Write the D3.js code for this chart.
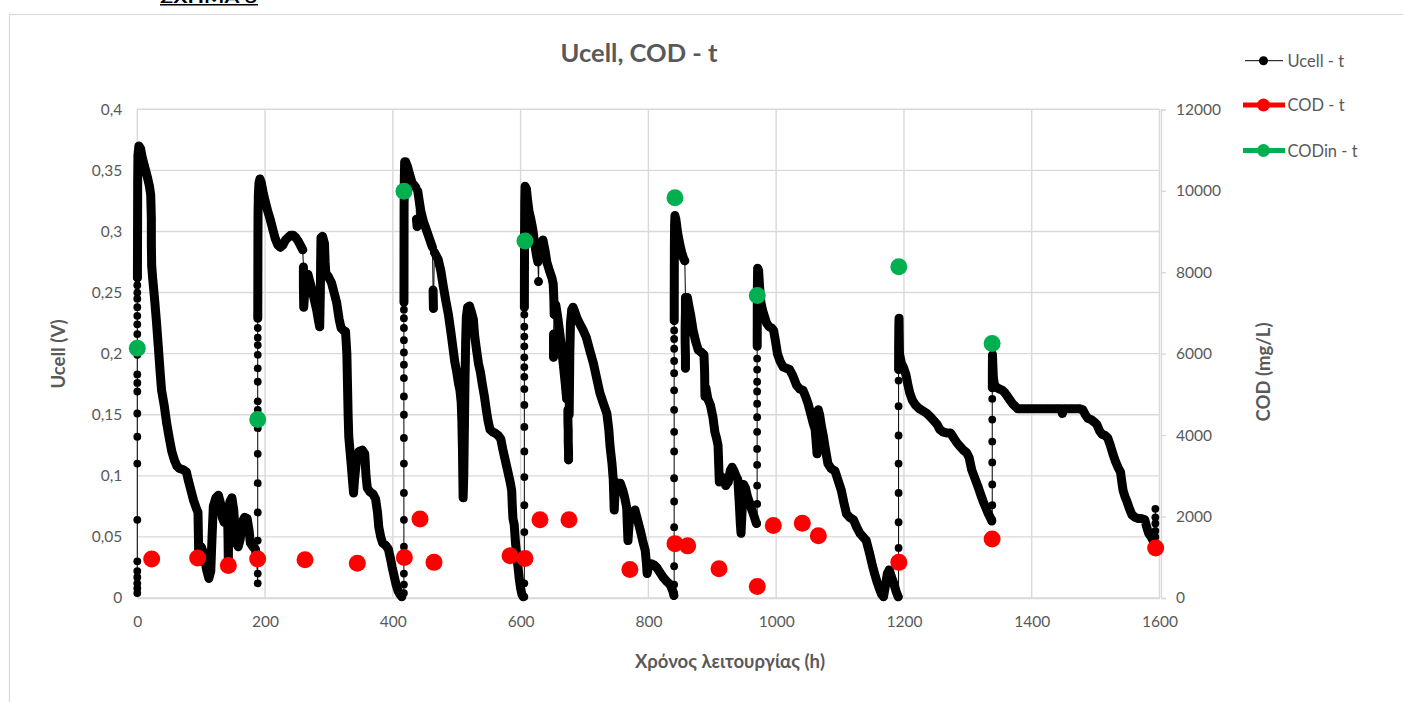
<!DOCTYPE html>
<html>
<head>
<meta charset="utf-8">
<script src="https://cdn.jsdelivr.net/npm/d3@7"></script>
<style>
  html, body { margin: 0; padding: 0; background: #ffffff; }
  svg { display: block; }
</style>
</head>
<body>
<svg id="chart" width="1403" height="702"></svg>
<script>
// ---------------------------------------------------------------
// Axis ticks
const timeTicks  = [0, 200, 400, 600, 800, 1000, 1200, 1400, 1600];
const ucellTicks = [0, 0.05, 0.1, 0.15, 0.2, 0.25, 0.3, 0.35, 0.4];
const codTicks   = [0, 2000, 4000, 6000, 8000, 10000, 12000];

// Effluent COD samples (mg/L) and the time they were taken (h)
const codTime  = [22.5, 94.5, 142.5, 188.4, 262.5, 344.4, 418, 442.5, 464.4, 583.4, 606.8, 630.3,
                  675.7, 771, 841.6, 861.5, 910.5, 970.4, 995.5, 1040.9, 1066, 1192, 1338, 1594];
const codValue = [960, 980, 800, 960, 940, 855, 995, 1940, 875, 1040, 970, 1920,
                  1920, 700, 1335, 1280, 720, 285, 1780, 1835, 1530, 875, 1450, 1225];

// Feed COD at each refill (mg/L)
const codInTime  = [0, 188.5, 417.4, 606.8, 841.6, 970.4, 1192, 1338];
const codInValue = [6130, 4385, 9990, 8765, 9830, 7430, 8135, 6250];

// Cell voltage: sparse readings while the voltage climbs right after each refill
const ucellRiseTime = [0, 188.5, 417.3, 605.8, 840.3, 970.2, 1191.6, 1338.2, 1593.5];
const ucellRiseVolt = [
  [0.004, 0.008, 0.012, 0.017, 0.022, 0.03, 0.064, 0.11, 0.132, 0.151, 0.169, 0.176, 0.183, 0.199, 0.216, 0.224, 0.231, 0.238, 0.245, 0.25, 0.256],
  [0.012, 0.02, 0.031, 0.047, 0.07, 0.094, 0.118, 0.139, 0.146, 0.154, 0.161, 0.177, 0.188, 0.199, 0.207, 0.213, 0.221],
  [0.004, 0.011, 0.02, 0.034, 0.042, 0.064, 0.086, 0.11, 0.131, 0.15, 0.165, 0.18, 0.191, 0.201, 0.211, 0.221, 0.229, 0.236],
  [0.001, 0.012, 0.031, 0.054, 0.076, 0.099, 0.12, 0.14, 0.158, 0.171, 0.181, 0.189, 0.197, 0.206, 0.214, 0.222, 0.232],
  [0.004, 0.011, 0.026, 0.045, 0.058, 0.079, 0.098, 0.12, 0.136, 0.154, 0.17, 0.184, 0.194, 0.204, 0.212, 0.219],
  [0.061, 0.077, 0.092, 0.109, 0.122, 0.136, 0.148, 0.159, 0.169, 0.177, 0.187, 0.196],
  [0.001, 0.028, 0.041, 0.062, 0.086, 0.11, 0.133, 0.157, 0.178],
  [0.064, 0.076, 0.093, 0.111, 0.128, 0.146, 0.163],
  [0.05, 0.055, 0.061, 0.066, 0.073]
];

// Cell voltage: continuous record [t (h), U (V)] through each cycle; null marks a jump between readings
const ucellDecay = [
  [[0.2,0.262],[0.4,0.3],[0.6,0.34],[1,0.362],[2.5,0.37],[5,0.368],[8,0.36],[12,0.352],[16,0.344],[19,0.337],[21,0.33],[22,0.31],[22,0.29],[22.5,0.272],[24,0.262],[27,0.245],[30,0.226],[33,0.205],[36,0.183],[38,0.17],[42,0.158],[46,0.143],[50,0.131],[54,0.12],[58,0.113],[62,0.108],[66,0.106],[72,0.105],[77,0.103],[80,0.096],[84,0.088],[88,0.08],[92,0.074],[95,0.07],[95.5,0.055],[96,0.04],[97,0.03],[100,0.042],[103,0.038],[106,0.03],[109,0.022],[112,0.016],[115,0.022],[117,0.05],[119,0.075],[123,0.082],[127,0.084],[130,0.078],[133,0.066],[136,0.062],[139,0.068],[141,0.075],[142,0.05],[142.5,0.028],[143,0.06],[145,0.079],[148,0.082],[151,0.072],[153,0.055],[155,0.045],[158,0.042],[161,0.048],[164,0.062],[168,0.066],[172,0.065],[175,0.055],[177,0.045],[181,0.042],[185,0.04],[187,0.03]],
  [[188.6,0.229],[188.7,0.26],[188.8,0.29],[189,0.315],[189.5,0.33],[190.5,0.34],[192,0.343],[194,0.34],[197,0.332],[200,0.325],[204,0.317],[208,0.31],[212,0.302],[216,0.294],[220,0.289],[224,0.287],[228,0.289],[232,0.293],[236,0.295],[240,0.297],[244,0.297],[248,0.295],[252,0.292],[256,0.288],[259,0.285],null,[260,0.271],[260,0.255],[260.5,0.238],[262,0.25],[264,0.262],[267,0.265],[271,0.257],[275,0.249],[278,0.242],[281,0.235],[284,0.226],[285.5,0.222],[286.5,0.25],[287,0.275],[287.5,0.295],[290,0.296],[293,0.29],[294,0.275],[295,0.266],[299,0.263],[304,0.258],[308,0.25],[312,0.242],[316,0.228],[319,0.221],[323,0.219],[326,0.218],[328,0.2],[329,0.175],[330,0.15],[331,0.132],[333,0.12],[335,0.108],[337,0.095],[338.5,0.086],[340,0.097],[343,0.112],[347,0.12],[352,0.121],[356,0.118],[358,0.1],[360,0.09],[364,0.087],[369,0.085],[373,0.081],[376,0.07],[378,0.058],[381,0.05],[384,0.045],[389,0.043],[393,0.04],[396,0.033],[399,0.025],[402,0.018],[405,0.011],[408,0.006],[411,0.003],[414,0.001]],
  [[417.4,0.242],[417.5,0.28],[417.6,0.32],[418,0.345],[418.5,0.357],[420,0.357],[423,0.353],[426,0.347],[430,0.34],[433,0.338],[436,0.336],null,[437,0.31],[438,0.304],null,[439,0.333],[441,0.326],[444,0.316],[448,0.308],[452,0.302],[456,0.296],[460,0.29],[462,0.287],null,[463,0.252],[463.5,0.237],null,[465,0.283],[468,0.28],[471,0.277],[475,0.268],[479,0.255],[483,0.243],[487,0.232],[491,0.217],[494,0.205],[497,0.193],[500,0.185],[503,0.175],[505,0.17],[507,0.16],[508,0.145],[509,0.12],[509.5,0.1],[510,0.082],[511,0.1],[512,0.14],[513,0.18],[514,0.21],[515,0.23],[517,0.238],[520,0.239],[523,0.234],[526,0.228],[528,0.215],[531,0.203],[534,0.192],[537,0.185],[540,0.175],[543,0.166],[546,0.155],[549,0.145],[552,0.138],[556,0.136],[560,0.135],[565,0.133],[569,0.13],[572,0.122],[575,0.115],[578,0.108],[581,0.101],[584,0.094],[586,0.088],[587,0.075],[588,0.065],[590,0.06],[592,0.045],[594,0.035],[596,0.025],[598,0.015],[600,0.008],[602,0.003],[604,0.001]],
  [[605.9,0.238],[606,0.27],[606.2,0.3],[606.5,0.325],[607,0.337],[609,0.335],[611,0.325],[613,0.317],[616,0.31],[619,0.302],[622,0.29],[625,0.28],[627,0.275],null,[628,0.259],null,[629,0.282],[632,0.29],[635,0.293],[638,0.285],[641,0.275],[645,0.268],[649,0.262],[651,0.257],[652,0.245],[652.5,0.232],null,[651.5,0.216],[651.5,0.207],[651.5,0.197],null,[655,0.24],[658,0.23],[661,0.218],[664,0.205],[667,0.19],[670,0.175],[672,0.163],null,[674,0.154],[674,0.145],[674.5,0.137],[674.5,0.128],[675,0.12],[675,0.113],null,[676,0.15],[677,0.2],[678,0.225],[680,0.236],[682,0.238],[685,0.234],[689,0.228],[693,0.224],[698,0.219],[703,0.213],[708,0.203],[714,0.192],[719,0.18],[724,0.168],[729,0.16],[735,0.151],[738,0.138],[740,0.124],[743,0.11],[745,0.097],[746,0.08],[746.5,0.072],[748,0.088],[752,0.094],[756,0.094],[760,0.088],[763,0.082],[766,0.074],[767,0.06],[768,0.047],[770,0.062],[774,0.07],[779,0.072],[783,0.064],[787,0.056],[791,0.047],[795,0.039],[797,0.028],[798,0.02],[801,0.027],[805,0.028],[809,0.027],[813,0.025],[818,0.021],[823,0.017],[828,0.014],[834,0.011],[838,0.006],[840,0.002]],
  [[840.4,0.227],[840.5,0.26],[840.7,0.29],[841,0.305],[841.5,0.313],[843,0.31],[846,0.298],[849,0.29],[852,0.283],[855,0.278],[857,0.276],null,[858,0.246],[858,0.235],[857.5,0.222],[857.5,0.21],[858,0.198],[858,0.188],null,[861,0.246],[863,0.24],[866,0.232],[870,0.219],[874,0.21],[878,0.203],[883,0.201],[887,0.199],[888,0.185],[888.5,0.165],[890,0.172],[893,0.163],[897,0.158],[901,0.148],[904,0.136],[907,0.13],[909,0.125],[910,0.11],[911,0.095],[913,0.1],[917,0.097],[921,0.092],[925,0.095],[928,0.104],[931,0.107],[934,0.104],[937,0.1],[940,0.097],[942,0.08],[944,0.06],[945,0.053],[947,0.075],[949,0.093],[952,0.09],[955,0.083],[959,0.077],[962,0.072],[966,0.066],[969,0.061]],
  [[970.3,0.206],[970.4,0.235],[970.6,0.255],[971,0.27],[972.5,0.268],[974,0.255],[976,0.242],[979,0.235],[982,0.23],[985,0.225],[989,0.222],[993,0.221],[996,0.219],[999,0.21],[1002,0.2],[1006,0.194],[1011,0.189],[1016,0.188],[1021,0.187],[1026,0.182],[1032,0.174],[1037,0.171],[1042,0.17],[1046,0.165],[1050,0.159],[1054,0.151],[1058,0.143],[1061,0.138],[1063,0.125],[1064,0.118],[1065,0.135],[1066,0.154],[1068,0.15],[1071,0.14],[1074,0.132],[1077,0.122],[1081,0.11],[1086,0.106],[1092,0.104],[1097,0.096],[1102,0.088],[1106,0.078],[1110,0.069],[1115,0.066],[1121,0.064],[1126,0.058],[1131,0.053],[1136,0.05],[1141,0.047],[1146,0.037],[1150,0.028],[1154,0.02],[1158,0.013],[1162,0.007],[1165,0.003],[1168,0.001],[1171,0.01],[1174,0.02],[1177,0.023],[1180,0.018],[1184,0.012],[1188,0.005],[1191,0.001]],
  [[1191.6,0.187],[1191.7,0.205],[1192,0.222],[1192.3,0.229],[1192.6,0.215],[1193,0.2],[1196,0.192],[1199,0.189],[1203,0.183],[1206,0.175],[1209,0.168],[1213,0.162],[1218,0.158],[1224,0.155],[1230,0.153],[1236,0.151],[1242,0.148],[1247,0.145],[1252,0.142],[1256,0.138],[1261,0.136],[1267,0.135],[1273,0.135],[1278,0.131],[1283,0.127],[1288,0.124],[1293,0.121],[1298,0.119],[1302,0.115],[1306,0.105],[1311,0.098],[1316,0.091],[1320,0.085],[1324,0.079],[1328,0.074],[1332,0.069],[1335,0.066],[1337.5,0.063]],
  [[1338.3,0.172],[1338.4,0.185],[1338.6,0.199],[1339.2,0.19],[1340,0.18],[1342,0.174],[1346,0.172],[1350,0.171],[1354,0.17],[1358,0.168],[1362,0.165],[1366,0.162],[1370,0.159],[1374,0.157],[1378,0.155],[1384,0.155],[1395,0.155],[1410,0.155],[1425,0.155],[1440,0.155],[1446,0.155],[1448,0.151],[1450,0.155],[1462,0.155],[1474,0.155],[1480,0.154],[1484,0.15],[1488,0.147],[1493,0.146],[1498,0.144],[1502,0.142],[1506,0.137],[1510,0.134],[1515,0.133],[1519,0.131],[1523,0.125],[1527,0.118],[1531,0.112],[1535,0.107],[1539,0.103],[1541,0.095],[1543,0.088],[1546,0.083],[1549,0.079],[1553,0.073],[1557,0.068],[1562,0.066],[1567,0.065],[1572,0.065],[1577,0.064],[1580,0.058],[1583,0.053],[1587,0.05],[1590,0.047]]
];

// Legend entries
const seriesNames  = ["Ucell - t", "COD - t", "CODin - t"];
const seriesColors = ["#000000", "#ff0000", "#00b050"];

// ---------------------------------------------------------------
const FONT = "Lato, 'Open Sans', 'Noto Sans', sans-serif";
const TEXT = "#595959";
const GRID = "#d9d9d9";

const svg = d3.select("#chart");

const x  = d3.scaleLinear().domain([0, 1600]).range([137.3, 1159.5]);
const y  = d3.scaleLinear().domain([0, 0.4]).range([598, 109.3]);
const y2 = d3.scaleLinear().domain([0, 12000]).range([598, 109.3]);

// Figure caption above the chart frame
svg.append("text")
  .attr("x", 160).attr("y", 2.5)
  .attr("font-family", FONT).attr("font-weight", 700).attr("font-size", 16)
  .attr("textLength", 97).attr("lengthAdjust", "spacingAndGlyphs")
  .attr("fill", "#000")
  .text("ΣΧΗΜΑ 6");
svg.append("line")
  .attr("x1", 160).attr("x2", 258).attr("y1", 4.8).attr("y2", 4.8)
  .attr("stroke", "#000").attr("stroke-width", 1.6);

// Chart frame
svg.append("rect")
  .attr("x", 9.5).attr("y", 14.5).attr("width", 1420).attr("height", 720)
  .attr("fill", "#fff").attr("stroke", GRID).attr("stroke-width", 1.2);

// Gridlines
const grid = svg.append("g");
grid.selectAll("line.h").data(ucellTicks).join("line")
  .attr("class", "h")
  .attr("x1", x(0)).attr("x2", x(1600))
  .attr("y1", d => y(d)).attr("y2", d => y(d))
  .attr("stroke", GRID).attr("stroke-width", 1.4);
grid.selectAll("line.v").data(timeTicks).join("line")
  .attr("class", "v")
  .attr("x1", d => x(d)).attr("x2", d => x(d))
  .attr("y1", y(0.4)).attr("y2", y(0))
  .attr("stroke", GRID).attr("stroke-width", 1.4);

// Axes
const commaFmt = v => String(v).replace(".", ",");

const leftAxis = svg.append("g")
  .attr("transform", `translate(${x(0)},0)`)
  .call(d3.axisLeft(y).tickValues(ucellTicks).tickSize(0).tickPadding(15).tickFormat(commaFmt));
leftAxis.select(".domain").remove();

const bottomAxis = svg.append("g")
  .attr("transform", `translate(0,${y(0)})`)
  .call(d3.axisBottom(x).tickValues(timeTicks).tickSize(0).tickPadding(18).tickFormat(d3.format("d")));
bottomAxis.select(".domain").attr("stroke", GRID).attr("stroke-width", 1.4);

const rightAxis = svg.append("g")
  .attr("transform", `translate(${x(1600) + 1.5},0)`)
  .call(d3.axisRight(y2).tickValues(codTicks).tickSize(5).tickPadding(10).tickFormat(d3.format("d")));
rightAxis.select(".domain").attr("stroke", GRID).attr("stroke-width", 1.4);
rightAxis.selectAll(".tick line").attr("stroke", GRID).attr("stroke-width", 1.4);

[leftAxis, bottomAxis, rightAxis].forEach(a => {
  a.selectAll("text")
    .attr("font-family", FONT).attr("font-size", 15.5).attr("fill", TEXT);
});

// Titles
svg.append("text")
  .attr("x", 639).attr("y", 61.5)
  .attr("text-anchor", "middle")
  .attr("font-family", FONT).attr("font-weight", 700).attr("font-size", 25.5)
  .attr("fill", TEXT)
  .text("Ucell, COD - t");

svg.append("text")
  .attr("transform", "translate(65,354) rotate(-90)")
  .attr("text-anchor", "middle")
  .attr("font-family", FONT).attr("font-weight", 700).attr("font-size", 18.5)
  .attr("fill", TEXT)
  .text("Ucell (V)");

svg.append("text")
  .attr("transform", "translate(1270,372) rotate(-90)")
  .attr("text-anchor", "middle")
  .attr("font-family", FONT).attr("font-weight", 700).attr("font-size", 18.5)
  .attr("fill", TEXT)
  .text("COD (mg/L)");

svg.append("text")
  .attr("x", 730).attr("y", 668)
  .attr("text-anchor", "middle")
  .attr("font-family", FONT).attr("font-weight", 700).attr("font-size", 18.5)
  .attr("fill", TEXT)
  .text("Χρόνος λειτουργίας (h)");

// ---------------------------------------------------------------
// Ucell series: readings in logging order
const riseSeries = ucellRiseTime.map((t, i) => ucellRiseVolt[i].map(v => [t, v]));
const ordered = [];
riseSeries.forEach((r, i) => {
  ordered.push(...r);
  if (ucellDecay[i]) ordered.push(...ucellDecay[i].filter(d => d !== null));
});

const plot = svg.append("g");

// connecting line through every reading
plot.append("path")
  .datum(ordered)
  .attr("d", d3.line().x(d => x(d[0])).y(d => y(d[1])))
  .attr("fill", "none").attr("stroke", "#000").attr("stroke-width", 1);

const MARK_R = 3.9;
const BAND_W = 9;

// closely spaced readings: markers merge into a continuous band
plot.selectAll("path.band").data(ucellDecay).join("path")
  .attr("class", "band")
  .attr("d", d3.line().defined(d => d !== null).x(d => x(d[0])).y(d => y(d[1])))
  .attr("fill", "none").attr("stroke", "#000")
  .attr("stroke-width", BAND_W)
  .attr("stroke-linecap", "round").attr("stroke-linejoin", "round");

// markers
plot.selectAll("circle.u").data(ordered).join("circle")
  .attr("class", "u")
  .attr("cx", d => x(d[0])).attr("cy", d => y(d[1]))
  .attr("r", MARK_R).attr("fill", "#000");

// COD samples
const codPts = codTime.map((t, i) => [t, codValue[i]]);
plot.selectAll("circle.cod").data(codPts).join("circle")
  .attr("class", "cod")
  .attr("cx", d => x(d[0])).attr("cy", d => y2(d[1]))
  .attr("r", 8.5).attr("fill", seriesColors[1]);

// Feed COD
const codInPts = codInTime.map((t, i) => [t, codInValue[i]]);
plot.selectAll("circle.codin").data(codInPts).join("circle")
  .attr("class", "codin")
  .attr("cx", d => x(d[0])).attr("cy", d => y2(d[1]))
  .attr("r", 8.5).attr("fill", seriesColors[2]);

// ---------------------------------------------------------------
// Legend
const legendY = [60.7, 105, 150.5];
const legend = svg.append("g");
seriesNames.forEach((name, i) => {
  const g = legend.append("g").attr("transform", `translate(0,${legendY[i]})`);
  const thin = i === 0;
  g.append("line")
    .attr("x1", thin ? 1245 : 1243).attr("x2", thin ? 1283 : 1285)
    .attr("y1", 0).attr("y2", 0)
    .attr("stroke", seriesColors[i])
    .attr("stroke-width", thin ? 1 : 5);
  g.append("circle")
    .attr("cx", 1263.5).attr("cy", 0)
    .attr("r", thin ? 4.5 : 6.5)
    .attr("fill", seriesColors[i]);
  g.append("text")
    .attr("x", 1287.5).attr("y", 6)
    .attr("font-family", FONT).attr("font-size", 16.5)
    .attr("fill", TEXT)
    .text(name);
});
</script>
</body>
</html>
